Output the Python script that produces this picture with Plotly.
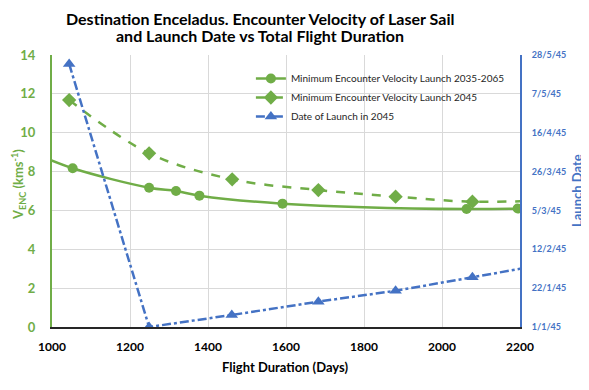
import plotly.graph_objects as go

# Minimum encounter velocity, launch 2035-2065 (solid, circles)
dur_range = [960, 1053, 1249, 1318, 1378, 1591, 2063, 2194]
vel_range = [8.9, 8.17, 7.17, 7.0, 6.76, 6.35, 6.07, 6.1]

# Minimum encounter velocity, launch 2045 (dashed, diamonds)
dur_2045 = [1044, 1249, 1462, 1683, 1881, 2078, 2275]
vel_2045 = [11.68, 8.94, 7.6, 7.05, 6.71, 6.45, 6.52]

# Date of launch in 2045 (dash-dot, triangles, right axis)
dur_launch = [1044, 1249, 1461, 1683, 1881, 2078, 2275]
launch_dates = ["2045-05-23 04:00", "2045-01-01", "2045-01-07 12:00", "2045-01-14 17:00",
                "2045-01-20 14:00", "2045-01-27 22:00", "2045-02-04 05:00"]

x_ticks = [1000, 1200, 1400, 1600, 1800, 2000, 2200]
y_ticks = [0, 2, 4, 6, 8, 10, 12, 14]

GREEN = "#70AD47"
BLUE = "#4472C4"
FONT = "Lato"

# page body has an 8px default margin; work in screen coordinates
OFF = 8
SW, SH = 589, 390
PL, PR, PT, PB = 52, 520, 55, 327  # plot box in screen pixels
W, H = SW - OFF, SH - OFF
L, T = PL - OFF, PT - OFF
R, B = W - (PR - OFF), H - (PB - OFF)
pw, ph = PR - PL, PB - PT


def px_x(sx):
    return (sx - PL) / pw


def px_y(sy):
    return (PB - sy) / ph


fig = go.Figure()
fig.add_trace(go.Scatter(
    x=dur_range, y=vel_range, mode="lines+markers",
    name="Minimum Encounter Velocity Launch 2035-2065",
    line=dict(color=GREEN, width=2.5, shape="spline"),
    marker=dict(symbol="circle", size=10, color=GREEN),
))
fig.add_trace(go.Scatter(
    x=dur_2045, y=vel_2045, mode="lines+markers",
    name="Minimum Encounter Velocity Launch 2045",
    line=dict(color=GREEN, width=2.5, dash="dash", shape="spline"),
    marker=dict(symbol="diamond", size=11, color=GREEN),
))
fig.add_trace(go.Scatter(
    x=dur_launch, y=launch_dates, mode="lines+markers", yaxis="y2",
    name="Date of Launch in 2045",
    line=dict(color=BLUE, width=2.5, dash="dashdot"),
    marker=dict(symbol="triangle-up", size=11, color=BLUE),
))

annotations = [
    dict(text="<b>Destination Enceladus. Encounter Velocity of Laser Sail</b>",
         xref="paper", yref="paper", x=px_x(260), y=px_y(18), xanchor="center", yanchor="middle",
         showarrow=False, font=dict(size=16, color="black", family=FONT)),
    dict(text="<b>and Launch Date vs Total Flight Duration</b>",
         xref="paper", yref="paper", x=px_x(260), y=px_y(35.5), xanchor="center", yanchor="middle",
         showarrow=False, font=dict(size=16, color="black", family=FONT)),
    dict(text="<b>Flight Duration (Days)</b>",
         xref="paper", yref="paper", x=px_x(285), y=px_y(367), xanchor="center", yanchor="middle",
         showarrow=False, font=dict(size=13, color="black", family=FONT)),
    dict(text="<b>V<sub>ENC</sub> (kms<sup>-1</sup>)</b>", textangle=-90,
         xref="paper", yref="paper", x=px_x(18), y=px_y(185), xanchor="center", yanchor="middle",
         showarrow=False, font=dict(size=13, color=GREEN, family=FONT)),
    dict(text="<b>Launch Date</b>", textangle=-90,
         xref="paper", yref="paper", x=px_x(577), y=px_y(191), xanchor="center", yanchor="middle",
         showarrow=False, font=dict(size=13, color=BLUE, family=FONT)),
]

fig.update_layout(
    width=W, height=H,
    margin=dict(l=L, r=R, t=T, b=B, autoexpand=False),
    paper_bgcolor="white", plot_bgcolor="white",
    font=dict(family=FONT, color="black"),
    annotations=annotations,
    xaxis=dict(
        range=[1000, 2200], tickvals=x_ticks, ticktext=[f"<b>{v}</b>" for v in x_ticks],
        showgrid=True, gridcolor="#D9D9D9", gridwidth=1,
        showline=True, linecolor="#262626", linewidth=2,
        ticks="", tickfont=dict(size=12, color="black"), ticklabelstandoff=8,
        automargin=False, zeroline=False,
    ),
    yaxis=dict(
        range=[0, 14], tickvals=y_ticks, ticktext=[f"<b>{v}</b>" for v in y_ticks],
        showgrid=True, gridcolor="#D9D9D9", gridwidth=1,
        showline=True, linecolor=GREEN, linewidth=2,
        ticks="", tickfont=dict(size=13, color=GREEN), ticklabelstandoff=12,
        automargin=False, zeroline=False,
    ),
    yaxis2=dict(
        overlaying="y", side="right", type="date",
        range=["2045-01-01", "2045-05-28"],
        tick0="2045-01-01", dtick=21 * 86400000, tickformat="<b>%-d/%-m/%y</b>",
        showgrid=False, showline=True, linecolor=BLUE, linewidth=2,
        ticks="", tickfont=dict(size=9, color=BLUE), ticklabelstandoff=8,
        automargin=False, zeroline=False,
    ),
    legend=dict(
        x=0.425, y=px_y(64), xanchor="left", yanchor="top",
        bgcolor="rgba(0,0,0,0)", font=dict(size=10, color="#262626"),
        itemwidth=30, tracegroupgap=0,
    ),
    showlegend=True,
)

fig.write_html("out.html")
